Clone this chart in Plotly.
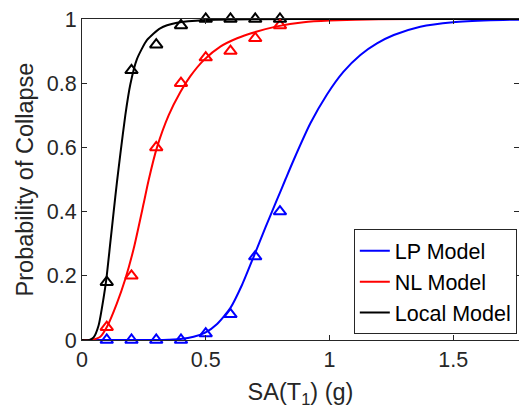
import plotly.graph_objects as go

# ---- data ----
pts_x = [0.1, 0.2, 0.3, 0.4, 0.5, 0.6, 0.7, 0.8]
lp_pts = [0.0, 0.0, 0.0, 0.0, 0.02, 0.08, 0.26, 0.40]
nl_pts = [0.04, 0.20, 0.60, 0.80, 0.88, 0.90, 0.94, 0.98]
local_pts = [0.18, 0.84, 0.92, 0.98, 1.0, 1.0, 1.0, 1.0]

lp_curve_x = [0.0, 0.3, 0.35, 0.397, 0.451, 0.498, 0.546, 0.6, 0.647, 0.694, 0.741,
              0.788, 0.822, 0.855, 0.923, 0.99, 1.057, 1.125, 1.192, 1.26, 1.367,
              1.5, 1.65, 1.77]
lp_curve_y = [0.0, 0.0, 0.001, 0.003, 0.01, 0.023, 0.05, 0.10, 0.172, 0.26, 0.35,
              0.437, 0.50, 0.56, 0.675, 0.765, 0.836, 0.888, 0.924, 0.95, 0.976,
              0.99, 0.996, 0.998]

nl_curve_x = [0.0, 0.034, 0.074, 0.101, 0.141, 0.175, 0.209, 0.249, 0.269, 0.303,
              0.35, 0.397, 0.438, 0.492, 0.559, 0.627, 0.694, 0.788, 0.896, 1.0,
              1.2, 1.5, 1.77]
nl_curve_y = [0.0, 0.0, 0.01, 0.041, 0.114, 0.19, 0.285, 0.425, 0.497, 0.60,
              0.70, 0.772, 0.822, 0.872, 0.914, 0.94, 0.958, 0.977, 0.99, 0.995,
              0.999, 1.0, 1.0]

local_curve_x = [0.0, 0.03, 0.047, 0.067, 0.087, 0.098, 0.114, 0.128, 0.141, 0.155,
                 0.175, 0.195, 0.222, 0.263, 0.316, 0.384, 0.5, 0.7, 1.0, 1.4, 1.77]
local_curve_y = [0.0, 0.0, 0.008, 0.045, 0.13, 0.187, 0.30, 0.40, 0.49, 0.58,
                 0.70, 0.795, 0.875, 0.935, 0.971, 0.988, 0.997, 0.9995, 1.0, 1.0, 1.0]

names = ["LP Model", "NL Model", "Local Model"]
colors = ["#0000ff", "#ff0000", "#000000"]
curves_x = [lp_curve_x, nl_curve_x, local_curve_x]
curves_y = [lp_curve_y, nl_curve_y, local_curve_y]
points_y = [lp_pts, nl_pts, local_pts]

FONT = "Liberation Sans, Arial, sans-serif"
AX = "#262626"

fig = go.Figure()
for name, c, cx, cy in zip(names, colors, curves_x, curves_y):
    fig.add_trace(go.Scatter(
        x=cx, y=cy, mode="lines", name=name,
        line=dict(color=c, width=2, shape="spline", smoothing=0.6),
        cliponaxis=False,
    ))
for name, c, py in zip(names, colors, points_y):
    fig.add_trace(go.Scatter(
        x=pts_x, y=py, mode="markers", showlegend=False,
        marker=dict(symbol="triangle-up-open", size=11, color=c,
                    line=dict(color=c, width=2)),
        cliponaxis=False,
    ))

fig.update_layout(
    width=519, height=411,
    margin=dict(l=82, r=0, t=19, b=71),
    paper_bgcolor="white", plot_bgcolor="white",
    font=dict(family=FONT, color=AX, size=21.5),
    showlegend=True,
    legend=dict(
        x=0.995, xanchor="right", y=0.018, yanchor="bottom",
        bgcolor="white", bordercolor=AX, borderwidth=1,
        font=dict(family=FONT, size=21.5, color="#000000"),
        tracegroupgap=0,
    ),
    xaxis=dict(
        range=[0, 1.766], dtick=0.5, tick0=0,
        showgrid=False, zeroline=False, automargin=False,
        showline=True, linecolor=AX, linewidth=1, mirror="ticks",
        ticks="inside", ticklen=5, tickcolor=AX, tickwidth=1,
        tickfont=dict(family=FONT, size=21.5, color=AX),
        title=dict(text="SA(T<sub>1</sub>) (g)", standoff=12,
                   font=dict(family=FONT, size=23.5, color=AX)),
    ),
    yaxis=dict(
        range=[0, 1], dtick=0.2, tick0=0,
        showgrid=False, zeroline=False, automargin=False,
        showline=True, linecolor=AX, linewidth=1, mirror="ticks",
        ticks="inside", ticklen=5, tickcolor=AX, tickwidth=1,
        tickfont=dict(family=FONT, size=21.5, color=AX),
        title=dict(text="Probability of Collapse", standoff=6,
                   font=dict(family=FONT, size=23.5, color=AX)),
    ),
)

fig.write_html(
    "out.html",
    config={"displayModeBar": False},
    post_script="document.body.style.margin='0';document.body.style.overflow='hidden';",
)
